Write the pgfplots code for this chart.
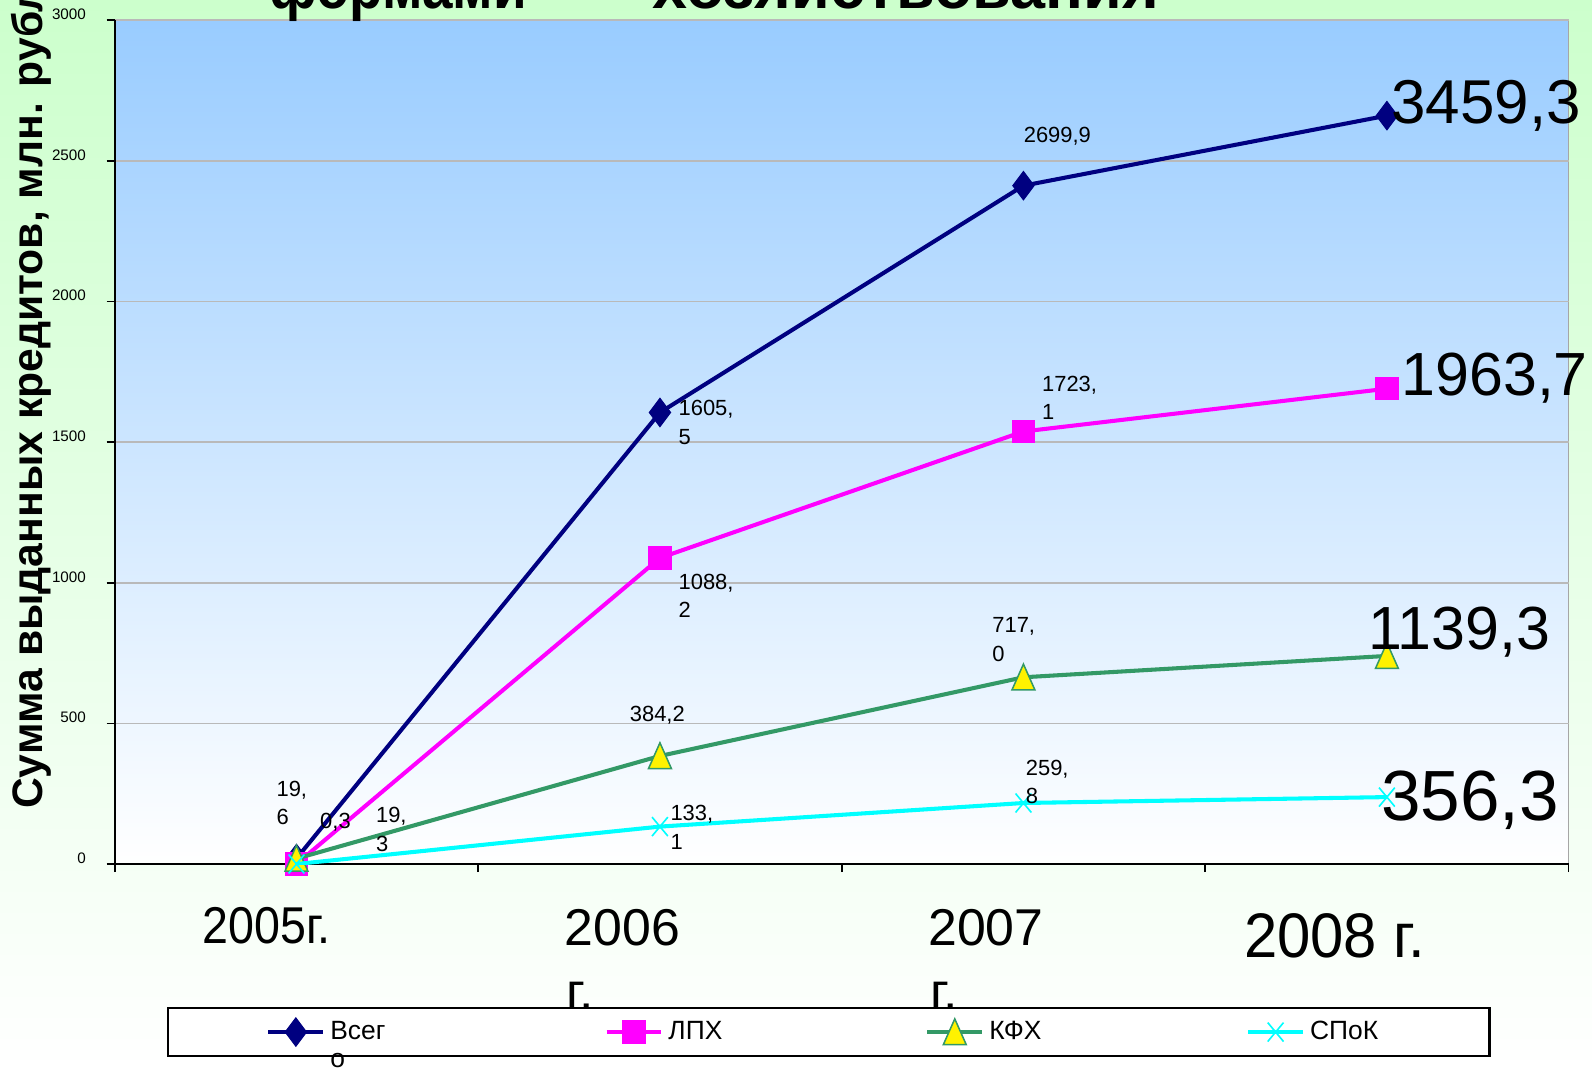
\documentclass[border=0pt]{standalone}
\usepackage{fontspec}
\setmainfont{Liberation Sans}
\usepackage{pgfplots}
\pgfplotsset{compat=1.18}
\definecolor{cNavy}{HTML}{000080}
\definecolor{cMag}{HTML}{FF00FF}
\definecolor{cGreen}{HTML}{339966}
\definecolor{cCyan}{HTML}{00FFFF}
\definecolor{bgGreen}{HTML}{CCFFCC}
\definecolor{plotBlue}{HTML}{99CCFF}
% displayed-pixel helpers
\newcommand{\Q}[2]{({(#1-113)*0.5pt},{(851-#2)*0.5pt})}
\newcommand{\PP}[2]{(axis cs:{(#1-113)/358},{(851-#2)*3000/831})}
\begin{document}
\begin{tikzpicture}
\useasboundingbox \Q{0}{0} rectangle \Q{1568}{1054};
\clip \Q{0}{0} rectangle \Q{1568}{1054};
\shade[top color=bgGreen, bottom color=white] \Q{0}{0} rectangle \Q{1568}{1054};
\begin{axis}[
  at={(0pt,0pt)}, anchor=south west,
  scale only axis, width=716pt, height=415.5pt,
  xmin=0, xmax=4, ymin=0, ymax=3000,
  clip mode=individual,
  axis x line*=bottom, axis y line*=left,
  axis line style={black, line width=1pt},
  axis background/.style={top color=plotBlue, bottom color=white, draw=gray!70, line width=0.8pt},
  xtick={0,1,2,3,4}, xticklabels={},
  ytick={0,500,1000,1500,2000,2500,3000},
  yticklabels={0,500,1000,1500,2000,2500,3000},
  yticklabel style={font=\fontsize{7.5}{8}\selectfont, anchor=south east, inner sep=0pt, yshift=0pt, xshift=-10pt},
  tick align=outside, major tick length=4pt,
  tick style={black, line width=0.8pt},
  ymajorgrids, grid style={gray!55, line width=0.8pt},
  legend columns=4,
  legend image code/.code={\draw[mark repeat=2, mark phase=2, #1] plot coordinates {(0pt,0pt) (13.5pt,0pt) (27pt,0pt)};},
  legend style={draw=none, fill=none, inner sep=0pt, at={(0.10405,-0.19916)}, anchor=west,
    column sep=0pt, font=\fontsize{13}{13.5}\selectfont,
    nodes={inner xsep=2.5pt, inner ysep=0pt}},
]
\addplot[cNavy, line width=2pt, mark=diamond*, mark size=7pt, mark options={solid, fill=cNavy, draw=cNavy, line width=0.5pt}]
  coordinates {(0.5,19.6) (1.5,1605.5) (2.5,2412) (3.5,2661)};
\addlegendentry{\makebox[132.5pt][l]{\vphantom{ЛПХ}\smash{\begin{tabular}[t]{@{}l@{}}Всег\\о\end{tabular}}}}
\addplot[cMag, line width=2pt, mark=square*, mark size=5.5pt, mark options={solid, fill=cMag, draw=cMag, line width=0.5pt}]
  coordinates {(0.5,0.3) (1.5,1088.2) (2.5,1538) (3.5,1690)};
\addlegendentry{\makebox[124pt][l]{ЛПХ}}
\addplot[cGreen, line width=2pt, mark=triangle*, mark size=6.5pt, mark options={solid, fill=yellow, draw=cGreen, line width=0.75pt, yscale=1.3, yshift=-1.5pt}]
  coordinates {(0.5,19.3) (1.5,384.2) (2.5,664) (3.5,740)};
\addlegendentry{\makebox[124pt][l]{КФХ}}
\addplot[cCyan, line width=2pt, mark=x, mark size=5.5pt, mark options={solid, draw=cCyan, line width=0.8pt, yscale=1.2}]
  coordinates {(0.5,0) (1.5,133.1) (2.5,217) (3.5,238)};
\addlegendentry{\makebox[40pt][l]{СПоК}}
% data labels
\begin{scope}[every node/.style={inner sep=0pt, anchor=north west, align=left, font=\fontsize{10.8}{14}\selectfont}]
\node at \PP{1008}{125} {2699,9};
\node at \PP{668}{394} {1605,\\5};
\node at \PP{1026}{370} {1723,\\1};
\node at \PP{668}{565} {1088,\\2};
\node at \PP{977}{608} {717,\\0};
\node at \PP{620}{695} {384,2};
\node at \PP{1010}{748} {259,\\8};
\node at \PP{660}{793} {133,\\1};
\node at \PP{272}{769} {19,\\6};
\node at \PP{315}{801} {0,3};
\node at \PP{370}{795} {19,\\3};
\end{scope}
% big end labels
\begin{scope}[every node/.style={inner sep=0pt, anchor=base west}]
\node[font=\fontsize{30.5}{31}\selectfont] at \PP{1370}{121.5} {3459,3};
\node[font=\fontsize{30}{31}\selectfont] at \PP{1380}{389.5} {1963,7};
\node[font=\fontsize{30}{31}\selectfont] at \PP{1347}{639.5} {1139,3};
\node[font=\fontsize{35}{36}\selectfont] at \PP{1360}{808} {356,3};
\end{scope}
% category labels
\begin{scope}[every node/.style={inner sep=0pt, anchor=base west}]
\node[font=\fontsize{25.5}{26}\selectfont] at \PP{199}{929} {\scalebox{0.9}[1]{2005г.}};
\node[font=\fontsize{25.5}{26}\selectfont] at \PP{556}{931} {2006};
\node[font=\fontsize{25.5}{26}\selectfont] at \PP{558}{994} {г.};
\node[font=\fontsize{25.5}{26}\selectfont] at \PP{914}{931} {2007};
\node[font=\fontsize{25.5}{26}\selectfont] at \PP{916}{994} {г.};
\node[font=\fontsize{31}{32}\selectfont] at \PP{1225}{943} {\scalebox{0.95}[1]{2008 г.}};
\end{scope}
\draw[fill=white, line width=1pt] \PP{165}{993} rectangle \PP{1467}{1040};
\end{axis}
\node[rotate=90, anchor=base west, inner sep=0pt, font=\bfseries\fontsize{21}{21}\selectfont] at \Q{42}{797} {Сумма выданных кредитов, млн. рублей};
\node[anchor=base, inner sep=0pt, font=\bfseries\fontsize{31}{31}\selectfont] at \Q{392}{8} {\scalebox{0.87}[1]{формами}};
\node[anchor=base, inner sep=0pt, font=\bfseries\fontsize{31}{31}\selectfont] at \Q{892}{8} {хозяйствования};
\end{tikzpicture}
\end{document}
